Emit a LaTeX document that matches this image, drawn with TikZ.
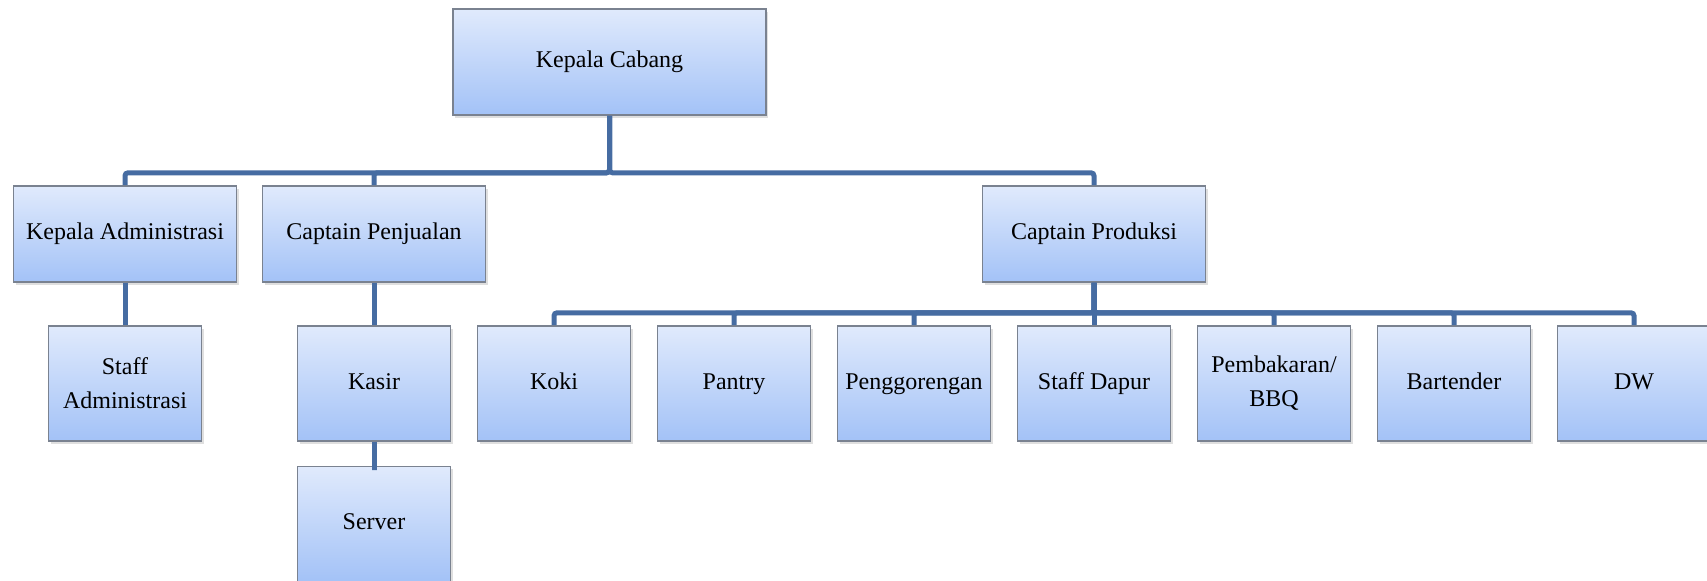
\documentclass[tikz,border=0pt]{standalone}
\usepackage{fontspec}
\setmainfont{Liberation Serif}
\usetikzlibrary{shadows}

\definecolor{boxtop}{RGB}{224,234,252}
\definecolor{boxbottom}{RGB}{163,194,247}
\definecolor{boxedge}{RGB}{122,130,144}
\definecolor{linkblue}{RGB}{70,108,162}

\begin{document}
\begin{tikzpicture}[
    orgbox/.style={draw=boxedge, line width=0.8pt, top color=boxtop, bottom color=boxbottom,
        drop shadow={shadow xshift=1pt, shadow yshift=-1.5pt, opacity=0.25},
        align=center, inner sep=2pt, text height=8.2pt, text depth=2.6pt,
        font=\fontsize{12}{17}\selectfont},
    twolines/.style={text height=, text depth=},
    headbox/.style={orgbox, minimum width=156.5pt, minimum height=53pt},
    deptbox/.style={orgbox, minimum width=111.5pt, minimum height=48pt},
    staffbox/.style={orgbox, minimum width=76.5pt, minimum height=57.5pt},
    edge from parent/.style={draw=linkblue, line width=2.5pt, rounded corners=1.5pt},
    level 1/.style={level distance=86pt, sibling distance=242.25pt,
        edge from parent path={(\tikzparentnode.south) -- ++(0,-28.5pt) -| (\tikzchildnode.north)}},
    level 2/.style={level distance=74.75pt, sibling distance=90pt,
        edge from parent path={(\tikzparentnode.south) -- ++(0,-15pt) -| (\tikzchildnode.north)}},
    level 3/.style={level distance=70.25pt}]

\useasboundingbox (0,0) rectangle (853.5pt,-290.5pt);

\node (cabang) [headbox] at (304.75pt,-31pt) {Kepala Cabang}
        child {node (kadmin) [deptbox] {Kepala Administrasi}
            child {node (sadmin) [staffbox, twolines] {Staff\\Administrasi}}}
        child [xshift=-117.75pt] {node (cpenj) [deptbox] {Captain Penjualan}
            child {node (kasir) [staffbox] {Kasir}
                child {node (server) [staffbox] {Server}}}}
        child {node (cprod) [deptbox] {Captain Produksi}
            child {node (koki) [staffbox] {Koki}}
            child {node (pantry) [staffbox] {Pantry}}
            child {node (goreng) [staffbox] {Penggorengan}}
            child {node (sdapur) [staffbox] {Staff Dapur}}
            child {node (bbq) [staffbox, twolines] {Pembakaran/\\BBQ}}
            child {node (bartender) [staffbox] {Bartender}}
            child {node (dw) [staffbox] {DW}}};

\end{tikzpicture}
\end{document}
